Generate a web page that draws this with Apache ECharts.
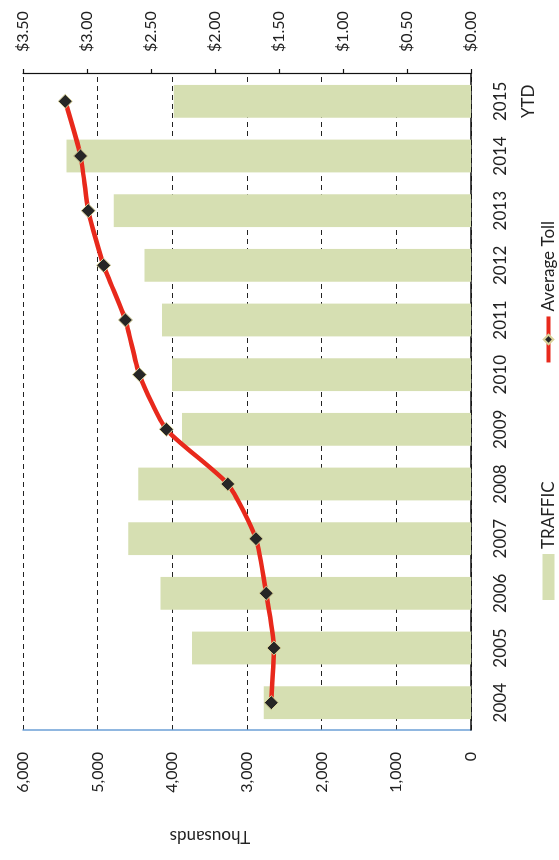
<!DOCTYPE html>
<html>
<head>
<meta charset="utf-8">
<script src="https://cdn.jsdelivr.net/npm/echarts@6/dist/echarts.min.js"></script>
<style>
  html, body { margin: 0; padding: 0; background: #fff; overflow: hidden; }
  #page { position: absolute; left: 0; top: 0; width: 559px; height: 860px; overflow: hidden; background: #fff; }
  /* the chart is laid out landscape and turned a quarter turn counter-clockwise */
  #chart {
    position: absolute; left: 0; top: 0; width: 860px; height: 559px;
    transform-origin: 0 0;
    transform: translate(0, 860px) rotate(-90deg);
  }
</style>
</head>
<body>
<div id="page"><div id="chart"></div></div>
<script>
// Yearly traffic (thousands) and average toll per year
const years = ['2004', '2005', '2006', '2007', '2008', '2009', '2010', '2011', '2012', '2013', '2014', '2015\nYTD'];
const traffic = [2776, 3735, 4157, 4590, 4455, 3869, 4003, 4137, 4373, 4784, 5418, 3981];
const avgToll = [1.56, 1.54, 1.60, 1.68, 1.90, 2.38, 2.59, 2.70, 2.87, 2.99, 3.05, 3.17];

// Axis ranges and tick steps
const trafficAxis = { min: 0, max: 6000, interval: 1000 };
const tollAxis = { min: 0, max: 3.5, interval: 0.5 };

const FONT = 'Lato, "Open Sans", sans-serif';
const TEXT = '#222';

const chart = echarts.init(document.getElementById('chart'), null, { renderer: 'canvas' });

chart.setOption({
  animation: false,
  backgroundColor: '#fff',
  grid: { left: 130, right: 74, top: 23, bottom: 88, containLabel: false },
  legend: {
    left: 255,
    top: 535,
    itemWidth: 46,
    itemHeight: 12,
    itemGap: 117,
    textStyle: { fontFamily: FONT, fontSize: 17, color: TEXT },
    data: [
      { name: 'TRAFFIC', icon: 'rect' },
      { name: 'Average Toll', lineStyle: { width: 4, color: '#e8291c' } }
    ]
  },
  graphic: [{
    type: 'text',
    x: 24,
    y: 210,
    rotation: Math.PI / 2,
    style: {
      text: 'Thousands',
      font: '17px ' + FONT,
      fill: TEXT,
      align: 'center',
      verticalAlign: 'middle'
    }
  }],
  xAxis: {
    type: 'category',
    data: years,
    boundaryGap: true,
    axisLine: { show: true, lineStyle: { color: '#111', width: 1.5 } },
    axisTick: { show: false },
    axisLabel: {
      margin: 16,
      fontFamily: FONT,
      fontSize: 17,
      lineHeight: 28,
      color: TEXT,
      interval: 0
    }
  },
  yAxis: [
    {
      type: 'value',
      min: trafficAxis.min,
      max: trafficAxis.max,
      interval: trafficAxis.interval,
      position: 'left',
      axisLine: { show: true, lineStyle: { color: '#6b9fd6', width: 1.5 } },
      axisTick: { show: false },
      axisLabel: {
        margin: 22,
        fontFamily: FONT,
        fontSize: 16,
        color: TEXT,
        formatter: v => v.toLocaleString('en-US')
      },
      splitLine: { show: true, lineStyle: { color: '#222', width: 1, type: [5, 4] } }
    },
    {
      type: 'value',
      min: tollAxis.min,
      max: tollAxis.max,
      interval: tollAxis.interval,
      position: 'right',
      axisLine: { show: true, lineStyle: { color: '#111', width: 1.2 } },
      axisTick: { show: true, inside: false, length: 5, lineStyle: { color: '#111', width: 1.2 } },
      axisLabel: {
        margin: 22,
        fontFamily: FONT,
        fontSize: 16,
        color: TEXT,
        formatter: v => '$' + v.toFixed(2)
      },
      splitLine: { show: false }
    }
  ],
  series: [
    {
      name: 'TRAFFIC',
      type: 'bar',
      yAxisIndex: 0,
      data: traffic,
      barWidth: '60%',
      itemStyle: { color: '#d6dfb2' },
      z: 2
    },
    {
      name: 'Average Toll',
      type: 'line',
      yAxisIndex: 1,
      data: avgToll,
      smooth: 0.2,
      symbol: 'diamond',
      symbolSize: 14,
      lineStyle: { color: '#e8291c', width: 4.5 },
      itemStyle: { color: '#262626', borderColor: '#d9d39a', borderWidth: 1 },
      z: 5
    }
  ]
});
</script>
</body>
</html>
